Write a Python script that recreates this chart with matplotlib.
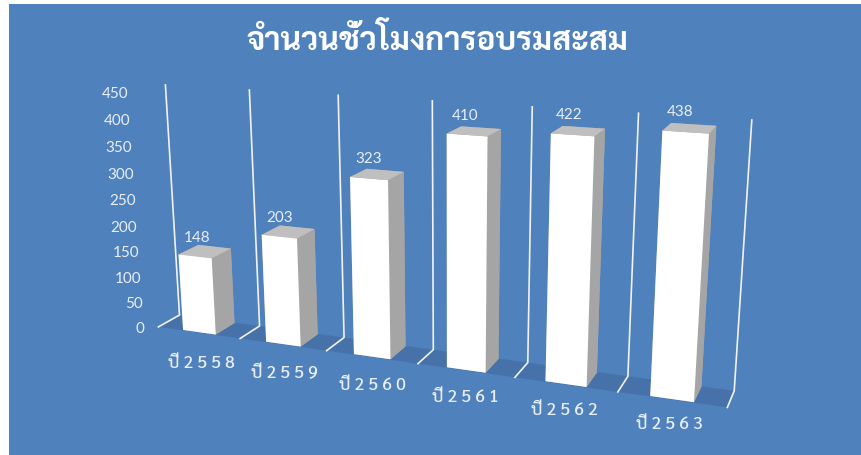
import matplotlib
matplotlib.use('Agg')
import matplotlib.pyplot as plt
from matplotlib.patches import Rectangle
from mpl_toolkits.mplot3d import proj3d
from mpl_toolkits.mplot3d.art3d import Poly3DCollection

categories = ['ปี 2558', 'ปี 2559', 'ปี 2560', 'ปี 2561', 'ปี 2562', 'ปี 2563']
values = [148, 203, 323, 410, 422, 438]
z_ticks = [0, 50, 100, 150, 200, 250, 300, 350, 400, 450]
title = 'จำนวนชั่วโมงการอบรมสะสม'

W, H = 862, 455
BG = '#4F81BD'
FLOOR = '#4672A9'
TXT = '#E9EEF6'
THAI = 'Sarabun'
NUM = 'Lato'

fig = plt.figure(figsize=(W / 100, H / 100), dpi=100, facecolor='white')
fig.add_artist(Rectangle((9 / W, 0), (W - 9) / W, (H - 4) / H, transform=fig.transFigure,
                         facecolor=BG, edgecolor='none', zorder=-1))

# camera was fitted against the wall lines of the reference
ax = fig.add_axes([90.3 / W, -113.7 / H, 651.9 / W, 651.9 / H], projection='3d')
ax.patch.set_alpha(0)
ax.set_axis_off()
ax.computed_zorder = False
ax.view_init(15.452, -68.141, 0.326)
ax.set_proj_type('persp', focal_length=0.3548)
ax.set_box_aspect((1, 0.0689, 0.4239))

n = len(categories)
floor = Poly3DCollection([[(0, 0, 0), (n, 0, 0), (n, 1, 0), (0, 1, 0)]],
                         facecolor=FLOOR, edgecolor='none', zorder=1)
ax.add_collection3d(floor)

# wall and floor lines at each category boundary
for k in range(n + 1):
    ax.plot([k, k, k], [0, 1, 1], [0, 0, z_ticks[-1]], color='#F2F2F2', lw=1.2, zorder=2, clip_on=False)

face_colors = ['#A5A5A5', '#BFBFBF', '#FFFFFF', '#A5A5A5', '#A5A5A5', '#A5A5A5'] * n
ax.bar3d([k + 0.3 for k in range(n)], [0.03] * n, [0] * n, [0.4] * n, [0.94] * n, values,
         color=face_colors, shade=False, edgecolor='none', zorder=3)

ax.set_xlim(0, n)
ax.set_ylim(0, 1)
ax.set_zlim(0, z_ticks[-1])
ax.set_xticks([])
ax.set_yticks([])
ax.set_zticks([])

def label(x, y, z, s, **kw):
    # project first, so the text sits at a plain 2D position
    px, py, _ = proj3d.proj_transform(x, y, z, ax.get_proj())
    ax.text2D(px, py, s, transform=ax.transData, color=TXT, va='center', zorder=4, clip_on=False, **kw)

for z in z_ticks:
    label(-0.18, 0, z - 8, str(z), fontsize=11, family=NUM, ha='right')

for k, v in enumerate(values):
    label(k + 0.41, 0.5, v + 25, str(v), fontsize=11, family=NUM, ha='center')

for k, cat in enumerate(categories):
    prefix, year = cat.split()
    label(k + 0.48, 0.128, -(65 - 3.3 * k), prefix + ' ' + ' '.join(year), fontsize=12.5,
          family=THAI, weight=500, ha='center')

fig.text(437 / W, 1 - 40 / H, title, color='white', fontsize=23, family=THAI, weight='bold',
         ha='center', va='center')

fig.savefig('out.png', dpi=100)
